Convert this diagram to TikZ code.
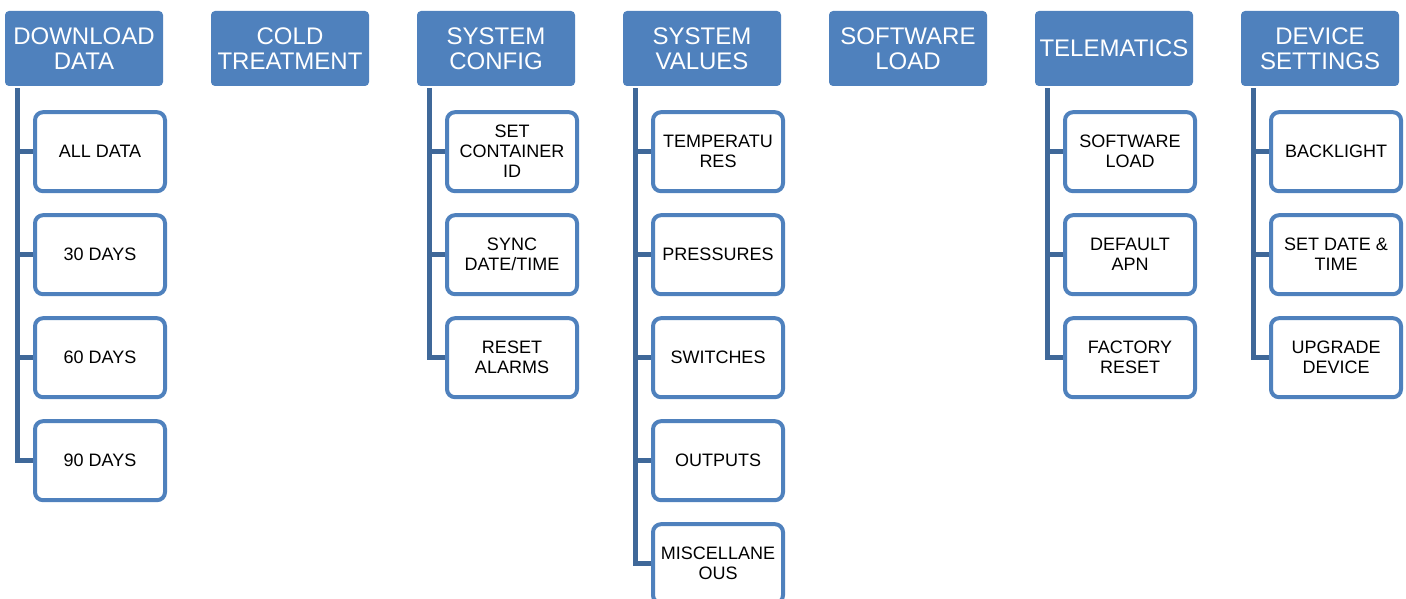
\documentclass[tikz,border=0pt]{standalone}
\usepackage{fontspec}
\setmainfont{Liberation Sans}
\usetikzlibrary{positioning}
\definecolor{hdblue}{HTML}{4F81BD}
\definecolor{spineblue}{HTML}{3F6899}

\begin{document}
\begin{tikzpicture}[
	x=1pt, y=-1pt,
	header/.style = {fill=hdblue, text=white, rounded corners=4pt, minimum width=158pt, minimum height=75pt, inner sep=0pt, align=center, font=\fontsize{24}{25}\selectfont},
	item/.style = {draw=hdblue, line width=4pt, fill=white, rounded corners=8pt, minimum width=130pt, minimum height=79pt, inner sep=0pt, align=center, font=\fontsize{18}{20}\selectfont},
	spine/.style = {draw=spineblue, line width=5pt},
	node distance = 20pt
]

\useasboundingbox (0,0) rectangle (1406,599);
\clip (0,0) rectangle (1406,599);

% top row
\node[header] (dl) at (84,48.5) {DOWNLOAD\\DATA};
\node[header] (ct) at (290,48.5) {COLD\\TREATMENT};
\node[header] (sc) at (496,48.5) {SYSTEM\\CONFIG};
\node[header] (sv) at (702,48.5) {SYSTEM\\VALUES};
\node[header] (sl) at (908,48.5) {SOFTWARE\\LOAD};
\node[header] (tm) at (1114,48.5) {TELEMATICS};
\node[header] (ds) at (1320,48.5) {DEVICE\\SETTINGS};

% download data
\node[item, below=24pt of dl, xshift=16pt] (dl1) {ALL DATA};
\node[item, below=of dl1] (dl2) {30 DAYS};
\node[item, below=of dl2] (dl3) {60 DAYS};
\node[item, below=of dl3] (dl4) {90 DAYS};

% system config
\node[item, below=24pt of sc, xshift=16pt] (sc1) {SET\\CONTAINER\\ID};
\node[item, below=of sc1] (sc2) {SYNC\\DATE/TIME};
\node[item, below=of sc2] (sc3) {RESET\\ALARMS};

% system values
\node[item, below=24pt of sv, xshift=16pt] (sv1) {TEMPERATU\\RES};
\node[item, below=of sv1] (sv2) {PRESSURES};
\node[item, below=of sv2] (sv3) {SWITCHES};
\node[item, below=of sv3] (sv4) {OUTPUTS};
\node[item, below=of sv4] (sv5) {MISCELLANE\\OUS};

% telematics
\node[item, below=24pt of tm, xshift=16pt] (tm1) {SOFTWARE\\LOAD};
\node[item, below=of tm1] (tm2) {DEFAULT\\APN};
\node[item, below=of tm2] (tm3) {FACTORY\\RESET};

% device settings
\node[item, below=24pt of ds, xshift=16pt] (ds1) {BACKLIGHT};
\node[item, below=of ds1] (ds2) {SET DATE \&\\TIME};
\node[item, below=of ds2] (ds3) {UPGRADE\\DEVICE};

% connectors
\foreach \h/\last in {dl/4, sc/3, sv/5, tm/3, ds/3} {
	\coordinate (\h top) at ([xshift=13pt, yshift=-2pt]\h.south west);
	\draw[spine] (\h top) |- (\h\last);
	\foreach \n in {1, ..., \last} {
		\draw[spine] (\h\n.west -| \h top) -- (\h\n);
	}
}

\end{tikzpicture}
\end{document}
